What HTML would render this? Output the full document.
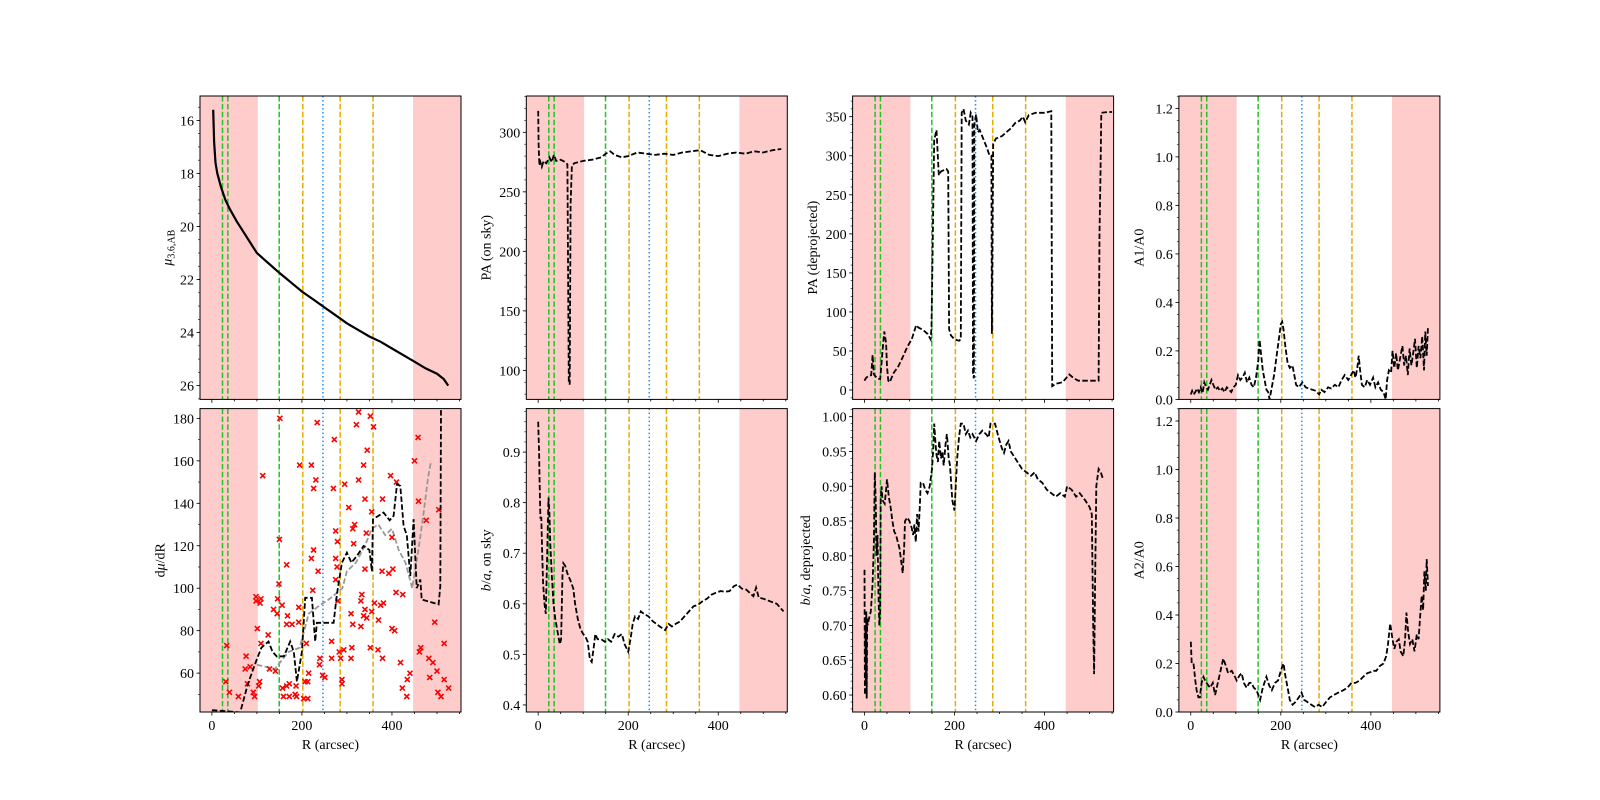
<!DOCTYPE html>
<html><head><meta charset="utf-8"><style>
html,body{margin:0;padding:0;background:#fff;}
svg{display:block;}
text{font-family:"Liberation Serif","DejaVu Serif",serif;fill:#000;}
</style></head><body>
<svg id="fig" width="1600" height="800" viewBox="0 0 1600 800" xmlns="http://www.w3.org/2000/svg"></svg>
<script>
// ---- data ----
const xTicks=[0,200,400];
const shadeLeft=[-26.35,102];
const shadeRight=[447,553.35];
const greenLines=[23.6,35.5,149.6];
const orangeLines=[202,285,358];
const blueLines=[246.7];

const muProfile=[[3,15.6],[5,16.8],[8,17.6],[12,18.0],[20,18.5],[30,19.0],[40,19.35],[55,19.8],[70,20.2],[85,20.6],[100,21.0],[120,21.3],[150,21.75],[175,22.1],[200,22.45],[225,22.75],[250,23.05],[275,23.35],[300,23.65],[325,23.9],[350,24.15],[375,24.35],[400,24.6],[425,24.85],[450,25.1],[475,25.35],[500,25.55],[515,25.75],[525,26.0]];

const dmdrBlack=[[0,42.5],[6,42.5],[62.9,41.5],[80,55],[99.9,66.5],[110,72],[125.9,74.9],[135,70],[144.4,67.8],[160,68],[174,74.9],[182,70],[188.9,56],[200,70],[207.4,95.5],[222.2,95.5],[229.6,74.9],[233.3,83.7],[262,83.7],[270.4,83.7],[277.8,97.1],[288.9,112],[300,116.8],[310,112],[322.2,115.2],[337,119.9],[350,118],[355.5,108],[357.8,132.5],[381.5,135.6],[395,132],[403.7,134.1],[411.1,149],[418.5,148.2],[425.9,129.3],[433,125],[440.7,105.7],[448.1,132.5],[455,100],[463,104.1],[466,94.7],[503.7,92.4],[507.4,101],[508.9,185]];
const dmdrGrey=[[100,64],[140,62],[170,70],[195,72],[215,88],[240,92],[262,95],[290,100],[300,108],[320,112],[340,120],[355,128],[370,130],[385,125],[400,128],[415,118],[430,112],[445,100],[460,120],[470,135],[480,152],[487,160]];
const dmdrPoints=[[151,180],[234,178],[326,183],[321,177],[352,181],[359,176],[272,170],[345,165],[458,171],[450,160],[195,158],[221,158],[113,153],[337,158],[397,153],[326,151],[231,151],[226,147],[270,147],[295,149],[410,150],[340,142],[379,142],[459,141],[504,137],[304,138],[355,136],[476,132],[317,130],[313,128],[275,127],[343,126],[279,122],[315,121],[400,124],[226,118],[275,114],[221,114],[278,110],[166,111],[340,109],[378,108],[402,109],[393,107],[236,108],[275,104],[150,123],[149,102],[224,99],[409,98],[424,97],[333,97],[331,94],[98,96],[109,95],[107,93],[98,94],[146,95],[156,92],[193,91],[280,94],[361,93],[381,93],[375,92],[340,90],[137,90],[145,88],[168,87],[309,88],[337,87],[344,86],[355,89],[370,85],[193,84],[178,83],[166,83],[313,83],[331,82],[101,81],[400,81],[406,80],[495,84],[125,78],[109,74],[210,74],[266,75],[311,72],[293,71],[352,72],[369,71],[283,70],[266,67],[286,67],[309,67],[379,67],[419,65],[461,70],[464,72],[482,67],[491,65],[500,61],[484,58],[516,74],[440,60],[516,57],[526,53],[434,57],[423,53],[433,49],[502,51],[509,49],[33,73],[31,56],[39,51],[76,68],[74,62],[85,63],[79,55],[59,49],[92,51],[95,49],[128,62],[141,61],[106,56],[104,54],[157,53],[166,54],[172,55],[187,54],[185,50],[159,49],[172,49],[188,49],[207,56],[213,56],[215,60],[204,48],[213,48],[240,67],[239,64],[246,59],[251,58],[289,57],[289,55]];

const paSky=[[0,318],[1,290],[2,278],[3,272],[5,275],[8,271],[12,276],[18,274],[25,279],[30,275],[35,281],[40,276],[50,277],[60,275],[65,273],[68,90],[70,88],[72,240],[75,272],[80,274],[90,275],[100,276],[120,277],[140,279],[150,282],[160,284],[170,281],[185,279],[200,280],[220,283],[240,282],[260,281],[280,282],[300,281],[320,283],[340,284],[360,285],[380,281],[400,280],[420,282],[440,283],[460,282],[480,284],[500,283],[520,285],[540,286]];

const baSky=[[0,0.96],[1,0.93],[2,0.9],[3,0.85],[5,0.77],[7,0.77],[9,0.7],[11,0.64],[14,0.6],[17,0.58],[20,0.7],[23,0.81],[25,0.78],[27,0.72],[30,0.66],[34,0.6],[38,0.57],[42,0.55],[46,0.53],[48,0.52],[51,0.53],[54,0.66],[56,0.68],[60,0.675],[65,0.66],[72,0.645],[78,0.63],[82,0.6],[88,0.57],[94,0.55],[100,0.54],[105,0.535],[110,0.525],[115,0.49],[119,0.485],[123,0.51],[127,0.54],[132,0.53],[140,0.53],[148,0.525],[155,0.53],[162,0.525],[170,0.54],[178,0.535],[186,0.54],[192,0.52],[200,0.505],[205,0.53],[210,0.56],[215,0.575],[222,0.57],[228,0.585],[235,0.58],[245,0.575],[255,0.565],[263,0.56],[270,0.555],[282,0.548],[290,0.56],[297,0.555],[305,0.56],[315,0.565],[325,0.575],[335,0.585],[345,0.595],[355,0.598],[365,0.605],[375,0.61],[385,0.618],[395,0.622],[405,0.625],[415,0.624],[425,0.625],[435,0.635],[443,0.638],[452,0.63],[462,0.628],[472,0.62],[478,0.615],[484,0.632],[490,0.612],[500,0.61],[515,0.605],[530,0.6],[545,0.585]];

const paDeproj=[[0,12],[3,15],[8,18],[15,19],[18,45],[21,20],[28,15],[35,14],[40,50],[44,75],[48,60],[50,30],[53,12],[56,10],[65,22],[75,30],[85,42],[95,55],[105,65],[115,83],[120,80],[130,77],[140,72],[147,65],[149,80],[155,320],[160,333],[165,275],[170,280],[178,282],[182,283],[186,280],[188,78],[192,70],[200,65],[210,63],[214,65],[216,355],[220,360],[225,345],[232,340],[236,355],[240,350],[241,20],[243,15],[244,340],[248,353],[252,330],[256,333],[265,320],[272,310],[278,300],[282,300],[283,72],[286,315],[292,322],[305,325],[315,330],[325,335],[335,342],[345,345],[352,350],[357,343],[365,352],[380,355],[400,355],[415,357],[417,5],[425,8],[440,10],[455,20],[465,15],[475,12],[520,12],[522,200],[524,270],[526,355],[540,356],[550,356]];

const baDeproj=[[0,0.78],[1,0.6],[2,0.7],[3,0.62],[4,0.72],[5,0.595],[6,0.71],[7,0.7],[10,0.71],[14,0.72],[18,0.76],[21,0.82],[23,0.92],[25,0.88],[27,0.8],[29,0.83],[31,0.75],[33,0.7],[35,0.72],[36,0.88],[38,0.9],[40,0.88],[45,0.875],[48,0.895],[50,0.91],[54,0.885],[58,0.87],[62,0.85],[66,0.835],[70,0.83],[74,0.82],[78,0.81],[82,0.79],[85,0.775],[88,0.81],[90,0.85],[95,0.855],[100,0.85],[105,0.84],[108,0.83],[111,0.845],[114,0.82],[117,0.86],[120,0.835],[123,0.87],[125,0.905],[130,0.905],[135,0.895],[140,0.89],[145,0.9],[150,0.925],[153,0.955],[155,0.99],[158,0.96],[160,0.945],[163,0.935],[166,0.965],[170,0.94],[173,0.95],[176,0.93],[180,0.96],[183,0.975],[187,0.94],[190,0.93],[195,0.88],[200,0.865],[203,0.905],[206,0.94],[210,0.97],[214,0.99],[220,0.99],[225,0.975],[230,0.98],[235,0.97],[240,0.975],[248,0.965],[255,0.975],[262,0.98],[270,0.975],[276,0.97],[280,0.99],[290,0.99],[298,0.97],[305,0.955],[310,0.948],[315,0.96],[320,0.965],[325,0.95],[330,0.945],[340,0.935],[350,0.925],[360,0.92],[370,0.915],[378,0.92],[385,0.91],[395,0.905],[405,0.895],[415,0.89],[425,0.885],[435,0.89],[445,0.885],[450,0.9],[460,0.895],[470,0.885],[478,0.89],[490,0.88],[500,0.87],[505,0.86],[508,0.7],[510,0.63],[512,0.75],[515,0.9],[520,0.925],[525,0.92],[530,0.91]];

const a1a0=[[0,0.02],[3,0.035],[6,0.02],[10,0.03],[14,0.045],[18,0.03],[22,0.05],[26,0.025],[30,0.07],[34,0.05],[38,0.04],[42,0.06],[46,0.08],[50,0.06],[55,0.04],[60,0.05],[65,0.035],[70,0.045],[75,0.03],[80,0.05],[85,0.04],[90,0.03],[95,0.05],[100,0.06],[105,0.1],[110,0.08],[115,0.09],[120,0.11],[125,0.07],[130,0.09],[135,0.06],[140,0.05],[145,0.09],[150,0.16],[153,0.245],[157,0.17],[160,0.12],[164,0.08],[168,0.04],[172,0.03],[175,0.0],[180,0.05],[185,0.1],[190,0.17],[195,0.24],[200,0.31],[203,0.32],[206,0.29],[210,0.22],[215,0.15],[220,0.13],[226,0.14],[230,0.1],[234,0.06],[240,0.05],[248,0.07],[255,0.05],[262,0.045],[270,0.04],[278,0.035],[285,0.02],[290,0.04],[297,0.03],[305,0.05],[312,0.045],[320,0.06],[328,0.05],[335,0.08],[342,0.1],[350,0.08],[356,0.1],[362,0.12],[366,0.09],[370,0.13],[373,0.18],[376,0.12],[380,0.06],[386,0.05],[392,0.08],[398,0.06],[405,0.09],[410,0.05],[416,0.07],[422,0.04],[428,0.03],[433,0.0],[436,0.08],[440,0.12],[445,0.11],[448,0.2],[452,0.13],[456,0.19],[460,0.12],[465,0.17],[470,0.22],[474,0.14],[478,0.18],[482,0.1],[486,0.21],[490,0.14],[494,0.19],[498,0.25],[502,0.13],[506,0.22],[510,0.17],[514,0.26],[518,0.12],[521,0.28],[524,0.18],[527,0.3]];

const a2a0=[[0,0.29],[2,0.2],[6,0.2],[10,0.13],[13,0.09],[17,0.06],[20,0.06],[24,0.12],[28,0.145],[32,0.13],[35,0.12],[43,0.1],[49,0.12],[54,0.07],[60,0.12],[65,0.16],[72,0.22],[78,0.19],[83,0.16],[91,0.17],[97,0.15],[102,0.13],[108,0.15],[113,0.16],[118,0.12],[124,0.1],[130,0.12],[135,0.12],[140,0.1],[146,0.09],[150,0.07],[154,0.05],[160,0.1],[168,0.145],[174,0.11],[180,0.09],[187,0.12],[194,0.13],[200,0.17],[206,0.2],[210,0.15],[213,0.12],[217,0.08],[220,0.05],[226,0.03],[232,0.04],[240,0.06],[246,0.08],[252,0.05],[260,0.04],[268,0.03],[276,0.02],[284,0.03],[292,0.02],[300,0.04],[309,0.06],[318,0.07],[328,0.08],[339,0.09],[348,0.1],[357,0.12],[366,0.12],[375,0.13],[383,0.145],[392,0.16],[400,0.165],[405,0.17],[412,0.17],[420,0.19],[428,0.2],[434,0.23],[438,0.28],[443,0.365],[448,0.3],[452,0.26],[457,0.29],[462,0.3],[466,0.25],[472,0.23],[476,0.3],[479,0.41],[483,0.33],[487,0.28],[492,0.3],[497,0.25],[502,0.32],[506,0.3],[509,0.38],[513,0.48],[516,0.42],[519,0.58],[522,0.5],[524,0.63],[527,0.52]];

// y tick definitions
const muTicks=[16,18,20,22,24,26];
const dmdrTicks=[60,80,100,120,140,160,180];
const paSkyTicks=[100,150,200,250,300];
const baSkyTicks=[0.4,0.5,0.6,0.7,0.8,0.9];
const paDeprojTicks=[0,50,100,150,200,250,300,350];
const baDeprojTicks=[0.60,0.65,0.70,0.75,0.80,0.85,0.90,0.95,1.00];
const aTicks=[0.0,0.2,0.4,0.6,0.8,1.0,1.2];

// ---- layout ----
const NS="http://www.w3.org/2000/svg";
const svg=document.getElementById('fig');
const LEFTS=[200,526.3,852.6,1178.9], PW=261;
const TOPS=[96,408.6], PH=303.4;
const XMIN=-26.35, XMAX=553.35;
function mk(tag,attrs,parent){const e=document.createElementNS(NS,tag);for(const k in attrs)e.setAttribute(k,attrs[k]);(parent||svg).appendChild(e);return e;}

function panel(col,row,ylim,inverted,majors,minorStep,fmt,ylabelHTML,name){
  const x0=LEFTS[col], y0=TOPS[row];
  const g=mk('g',{});
  
  
  const clipId='c'+col+row;
  const cp=mk('clipPath',{id:clipId},g);mk('rect',{x:x0,y:y0,width:PW,height:PH},cp);
  const sx=v=>x0+(v-XMIN)/(XMAX-XMIN)*PW;
  const sy=v=>{const f=(v-ylim[0])/(ylim[1]-ylim[0]);return inverted? y0+f*PH : y0+PH-f*PH;};
  const inner=mk('g',{'clip-path':'url(#'+clipId+')'},g);
  [shadeLeft,shadeRight].forEach((s,i)=>{
    const r=mk('rect',{x:sx(s[0]),y:y0,width:sx(s[1])-sx(s[0]),height:PH,fill:'#ffcccc'},inner);
    
    
  });
  greenLines.forEach(v=>{const l=mk('line',{x1:sx(v),x2:sx(v),y1:y0,y2:y0+PH,stroke:'#22c322','stroke-width':1.5,'stroke-dasharray':'5.5,2.4'},inner);
    
    });
  orangeLines.forEach(v=>{const l=mk('line',{x1:sx(v),x2:sx(v),y1:y0,y2:y0+PH,stroke:'#e6ac00','stroke-width':1.5,'stroke-dasharray':'5.5,2.4'},inner);
    
    });
  blueLines.forEach(v=>{const l=mk('line',{x1:sx(v),x2:sx(v),y1:y0,y2:y0+PH,stroke:'#1e90ff','stroke-width':1.5,'stroke-dasharray':'1.5,2.5'},inner);
    
    });
  const fr=mk('rect',{x:x0,y:y0,width:PW,height:PH,fill:'none',stroke:'#000','stroke-width':1},g);
  
  
  for(let v=0;v<=550;v+=50){const X=sx(v);const maj=v%200==0;
    mk('line',{x1:X,x2:X,y1:y0+PH,y2:y0+PH+(maj?3.5:2),stroke:'#000','stroke-width':0.8},g);}
  if(row==1){xTicks.forEach(v=>{const t=mk('text',{x:sx(v),y:y0+PH+18,'text-anchor':'middle','font-size':14},g);t.textContent=v;
    
    });
    const xl=mk('text',{x:x0+PW/2,y:y0+PH+37,'text-anchor':'middle','font-size':14},g);xl.textContent='R (arcsec)';
    
    }
  const lo=Math.min(ylim[0],ylim[1]),hi=Math.max(ylim[0],ylim[1]);
  for(let v=Math.ceil(lo/minorStep-1e-6)*minorStep;v<=hi+1e-9;v+=minorStep){const Y=sy(v);
    mk('line',{x1:x0,x2:x0-2,y1:Y,y2:Y,stroke:'#000','stroke-width':0.6},g);}
  majors.forEach(v=>{const Y=sy(v);mk('line',{x1:x0,x2:x0-3.5,y1:Y,y2:Y,stroke:'#000','stroke-width':0.8},g);
    const t=mk('text',{x:x0-6,y:Y+5,'text-anchor':'end','font-size':14},g);t.textContent=fmt(v);
    
    });
  let maxw=0;majors.forEach(v=>maxw=Math.max(maxw,fmt(v).length));
  const lx=x0-10-maxw*7.2-4;
  const yl=mk('text',{x:lx,y:y0+PH/2,'text-anchor':'middle','font-size':14,transform:'rotate(-90 '+lx+' '+(y0+PH/2)+')'},g);
  yl.innerHTML=ylabelHTML;
  
  
  return {sx,sy,g:inner};
}
function path(p,data,attrs,name){
  const d=data.map((q,i)=>(i?'L':'M')+p.sx(q[0]).toFixed(1)+','+p.sy(q[1]).toFixed(1)).join('');
  const e=mk('path',Object.assign({d:d,fill:'none'},attrs),p.g);
  
  
  return e;
}
const dash={stroke:'#000','stroke-width':1.8,'stroke-dasharray':'5.5,2.4'};

const p1=panel(0,0,[15.08,26.52],true,muTicks,0.5,v=>String(v),'<tspan font-style="italic">μ</tspan><tspan font-size="10" dy="3">3.6,AB</tspan>','surface-brightness');
path(p1,muProfile,{stroke:'#999','stroke-width':1.5,'stroke-dasharray':'5.5,2.4'},'mu-model-line');
path(p1,muProfile,{stroke:'#000','stroke-width':2.2},'mu-profile-points');

const p2=panel(0,1,[41.7,184.6],false,dmdrTicks,10,v=>String(v),'d<tspan font-style="italic">μ</tspan>/dR','dmu-dr');
path(p2,dmdrGrey,{stroke:'#999','stroke-width':1.8,'stroke-dasharray':'5.5,2.4'},'dmudr-grey-line');
dmdrPoints.forEach(q=>{const X=p2.sx(q[0]),Y=p2.sy(q[1]);
  const m=mk('path',{d:`M${X-2.5},${Y-2.5}L${X+2.5},${Y+2.5}M${X-2.5},${Y+2.5}L${X+2.5},${Y-2.5}`,stroke:'#f00','stroke-width':1.6},p2.g);
  
  });
path(p2,dmdrBlack,dash,'dmudr-black-line');

const p3=panel(1,0,[75.6,330.5],false,paSkyTicks,10,v=>String(v),'PA (on sky)','pa-sky');
path(p3,paSky,dash,'pa-sky-line');

const p4=panel(1,1,[0.386,0.986],false,baSkyTicks,0.02,v=>v.toFixed(1),'<tspan font-style="italic">b</tspan>/<tspan font-style="italic">a</tspan>, on sky','ba-sky');
path(p4,baSky,dash,'ba-sky-line');

const p5=panel(2,0,[-12,376.5],false,paDeprojTicks,10,v=>String(v),'PA (deprojected)','pa-deproj');
path(p5,paDeproj,dash,'pa-deproj-line');

const p6=panel(2,1,[0.5756,1.0116],false,baDeprojTicks,0.01,v=>v.toFixed(2),'<tspan font-style="italic">b</tspan>/<tspan font-style="italic">a</tspan>, deprojected','ba-deproj');
path(p6,baDeproj,dash,'ba-deproj-line');

const p7=panel(3,0,[0,1.251],false,aTicks,0.05,v=>v.toFixed(1),'A1/A0','a1-a0');
path(p7,a1a0,dash,'a1a0-line');

const p8=panel(3,1,[0,1.251],false,aTicks,0.05,v=>v.toFixed(1),'A2/A0','a2-a0');
path(p8,a2a0,dash,'a2a0-line');
</script>
</body></html>
